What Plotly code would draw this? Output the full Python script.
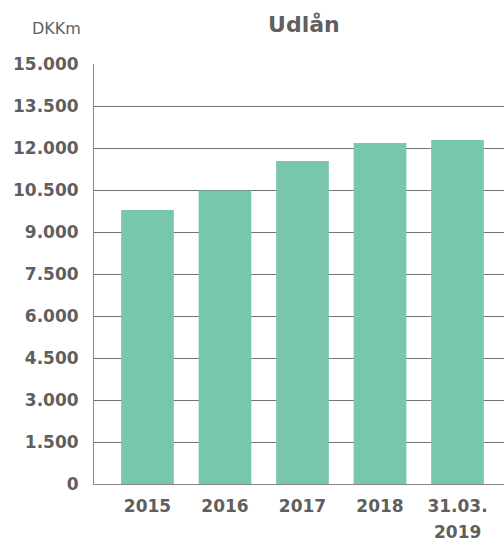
import plotly.graph_objects as go

categories = ["2015", "2016", "2017", "2018", "31.03.<br>2019"]
values = [9790, 10480, 11540, 12180, 12290]
y_tick_vals = [0, 1500, 3000, 4500, 6000, 7500, 9000, 10500, 12000, 13500, 15000]
y_tick_text = ["0", "1.500", "3.000", "4.500", "6.000", "7.500", "9.000",
               "10.500", "12.000", "13.500", "15.000"]

TEXT = "#5f5f5f"
FONT = "DejaVu Sans"

fig = go.Figure(go.Bar(
    x=list(range(len(categories))), y=values,
    marker=dict(color="#78c7aa", line=dict(width=0)),
    width=0.68,
))

# first line of each category label as tick text, further lines as annotations
first_lines = ["<b>%s</b>" % c.split("<br>")[0] for c in categories]
extra = []
for i, c in enumerate(categories):
    parts = c.split("<br>")
    for j, p in enumerate(parts[1:], start=1):
        extra.append(dict(text="<b>%s</b>" % p, x=i, xref="x", yref="paper",
                          y=-(532 - 484) / 420, xanchor="center", yanchor="middle",
                          showarrow=False,
                          font=dict(size=17, color=TEXT, family=FONT)))

fig.update_layout(
    width=504, height=544,
    margin=dict(l=94, r=0, t=64, b=60, autoexpand=False),
    plot_bgcolor="white", paper_bgcolor="white",
    showlegend=False,
    font=dict(family=FONT, color=TEXT),
    title=dict(text="<b>Udlån</b>", x=0.603, xanchor="center", y=0.956, yanchor="middle",
               font=dict(size=22, color=TEXT, family=FONT)),
    annotations=[dict(text="DKKm", showarrow=False, xref="paper", yref="paper",
                      x=(56 - 94) / 410, y=(484 - 28) / 420,
                      xanchor="center", yanchor="middle",
                      font=dict(size=16, color=TEXT, family=FONT))] + extra,
)

fig.update_xaxes(
    range=[-0.69, 4.6], automargin=False,
    tickvals=list(range(len(categories))),
    ticktext=first_lines,
    tickfont=dict(size=17, color=TEXT, family=FONT),
    showgrid=False, zeroline=False,
    showline=True, linecolor="#888888", linewidth=1,
    ticks="outside", ticklen=7, tickcolor="rgba(0,0,0,0)",
)
fig.update_yaxes(
    range=[0, 15000], automargin=False,
    tickvals=y_tick_vals, ticktext=["<b>%s</b>" % t for t in y_tick_text],
    tickfont=dict(size=17, color=TEXT, family=FONT),
    showgrid=True, gridcolor="#727272", gridwidth=1,
    zeroline=False,
    showline=True, linecolor="#888888", linewidth=1,
    ticks="outside", ticklen=0, ticklabelstandoff=11,
)

fig.write_html("out.html", config={"displayModeBar": False},
               post_script="document.body.style.margin='0';document.body.style.overflow='hidden';")
